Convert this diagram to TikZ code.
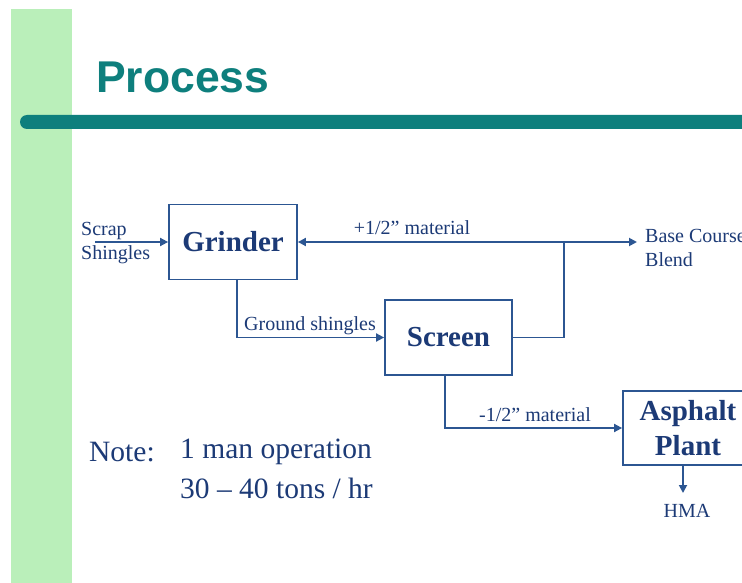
\documentclass[tikz,border=0pt]{standalone}
\usepackage{fontspec}
\setmainfont{Liberation Serif}
\newfontfamily\titlefont{Liberation Sans}
\usetikzlibrary{arrows.meta}
\definecolor{txt}{RGB}{28,58,118}
\definecolor{ln}{RGB}{44,86,146}
\definecolor{teal}{RGB}{14,127,125}
\definecolor{stripgreen}{RGB}{186,239,186}
\begin{document}
\begin{tikzpicture}[x=1pt,y=-1pt,
  box/.style={draw=ln,line width=1.8pt,text=txt,font=\fontsize{29}{35}\selectfont\bfseries,inner sep=0pt,align=center},
  lbl/.style={text=txt,font=\fontsize{20}{24}\selectfont,inner sep=0pt},
  note/.style={text=txt,font=\fontsize{29.5}{34}\selectfont,inner sep=0pt,anchor=west},
  conn/.style={draw=ln,line width=1.8pt},
  arr/.style={conn,-{Triangle[length=8pt,width=8pt]}}]
\useasboundingbox (0,0) rectangle (742,583);
\clip (0,0) rectangle (742,583);
% background
\fill[stripgreen] (11,9) rectangle (72,583);
\fill[white,rounded corners=6] (72,9) rectangle (760,600);
\fill[teal,rounded corners=7] (20,115) rectangle (780,129);
\node[anchor=base west,inner sep=0pt,text=teal,font=\titlefont\fontsize{44.5}{48}\selectfont\bfseries] (title) at (96,93) {Process};
% boxes
\node[box,minimum width=128,minimum height=75] (grinder) at (233,242) {Grinder};
\node[box,minimum width=127,minimum height=75] (screen) at (448.5,337.5) {Screen};
\node[box,minimum width=130,minimum height=74] (asphalt) at (688,428) {Asphalt\\Plant};
% coordinates
\coordinate (scrap) at (95,242);
\coordinate (junction) at (564,242);
\coordinate (base) at (637,242);
\coordinate (hma) at (683,493);
% connectors
\draw[arr] (scrap) -- (grinder.west);
\draw[conn,{Triangle[length=8pt,width=8pt]}-{Triangle[length=8pt,width=8pt]}] (grinder.east) -- (base);
\draw[conn] (screen.east) -| (junction);
\draw[arr] ([xshift=4pt]grinder.south) |- (screen.west);
\draw[arr] ([xshift=-3.5pt]screen.south) |- (asphalt.west);
\draw[arr] (asphalt.south -| hma) -- (hma);
% labels
\node[lbl,anchor=west,align=left] (scraplbl) at (81,243) {Scrap\\Shingles};
\node[lbl] (plus) at (412,228) {+1/2” material};
\node[lbl,anchor=west,align=left] (baselbl) at (645,248) {Base Course\\Blend};
\node[lbl] (ground) at (310,326) {Ground shingles};
\node[lbl] (minus) at (535,415) {-1/2” material};
\node[lbl] (hmalbl) at (687,511) {HMA};
\node[note] (notea) at (89,452) {Note:};
\node[note] (noteb) at (180,452) {1 man operation};
\node[note] (notec) at (180,488) {30 – 40 tons / hr};
\end{tikzpicture}
\end{document}
